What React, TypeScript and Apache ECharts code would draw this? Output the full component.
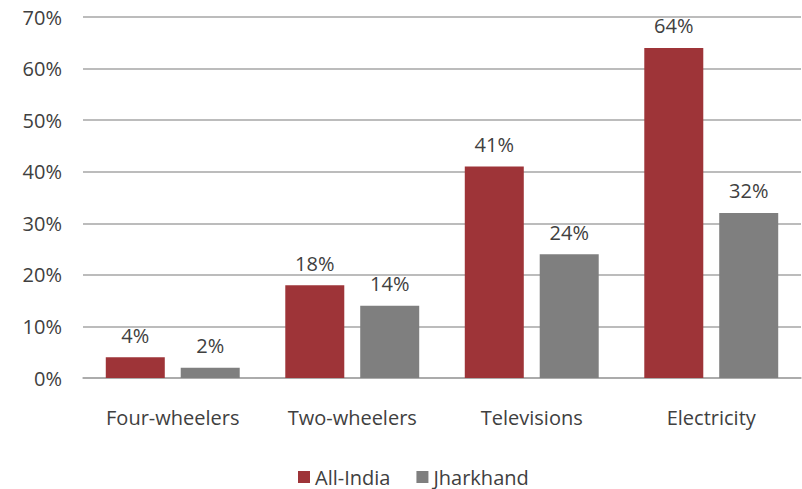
import React, { useEffect, useRef } from "react";
import * as echarts from "echarts";

const categories = ["Four-wheelers", "Two-wheelers", "Televisions", "Electricity"];
const allIndia = [4, 18, 41, 64];
const jharkhand = [2, 14, 24, 32];
const seriesNames = ["All-India", "Jharkhand"];

const FONT = "'Open Sans', sans-serif";
const TEXT = "#404040";
const FS = 20;

export default function App() {
  const ref = useRef<HTMLDivElement>(null);
  useEffect(() => {
    if (!ref.current) return;
    const chart = echarts.init(ref.current, null, { renderer: "svg" });
    const labelCfg = {
      show: true,
      position: "top",
      distance: 12,
      formatter: (p: any) => p.value + "%",
      fontFamily: FONT,
      fontSize: FS,
      color: TEXT,
    };
    chart.setOption({
      animation: false,
      backgroundColor: "#ffffff",
      grid: { left: 83, right: 1, top: 17, bottom: 111, containLabel: false },
      legend: {
        data: seriesNames,
        bottom: 1,
        padding: 0,
        left: 298,
        icon: "rect",
        itemWidth: 12,
        itemHeight: 12,
        itemGap: 26,
        textStyle: { fontFamily: FONT, fontSize: 20, color: TEXT, lineHeight: 22 },
      },
      xAxis: {
        type: "category",
        data: categories,
        axisLine: { show: true, lineStyle: { color: "#a6a6a6", width: 1.5 } },
        axisTick: { show: false },
        axisLabel: { margin: 29, fontFamily: FONT, fontSize: FS, color: TEXT },
      },
      yAxis: {
        type: "value",
        min: 0,
        max: 70,
        interval: 10,
        axisLine: { show: false },
        axisTick: { show: false },
        splitLine: { lineStyle: { color: "#a6a6a6", width: 1.5 } },
        axisLabel: {
          margin: 21,
          formatter: (v: number) => v + "%",
          fontFamily: FONT,
          fontSize: FS,
          color: TEXT,
        },
      },
      series: [
        {
          name: seriesNames[0],
          type: "bar",
          data: allIndia,
          barWidth: 59,
          barGap: "27%",
          itemStyle: { color: "#9e3438" },
          label: labelCfg,
        },
        {
          name: seriesNames[1],
          type: "bar",
          data: jharkhand,
          barWidth: 59,
          itemStyle: { color: "#7f7f7f" },
          label: labelCfg,
        },
      ],
    });
    return () => chart.dispose();
  }, []);
  return (
    <div
      ref={ref}
      style={{ position: "fixed", left: 0, top: 0, width: 802, height: 489 }}
    />
  );
}
